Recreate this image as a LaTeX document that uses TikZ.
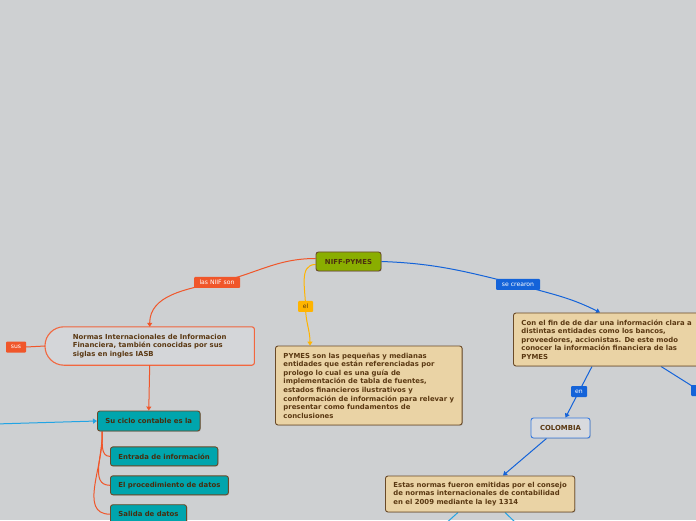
\documentclass[tikz,border=0pt]{standalone}
\usepackage{fontspec}
\newfontfamily\mapafont{DejaVu Sans}
\usetikzlibrary{shadows,calc,positioning,arrows.meta}
\definecolor{fondo}{HTML}{CED0D2}
\definecolor{cafe}{HTML}{6A4A28}
\definecolor{letracafe}{HTML}{5A3812}
\definecolor{arena}{HTML}{EAD3A5}
\definecolor{oliva}{HTML}{8AAE00}
\definecolor{turquesa}{HTML}{00A5AD}
\definecolor{naranja}{HTML}{F0562A}
\definecolor{amarillo}{HTML}{FFB400}
\definecolor{azul}{HTML}{1463D9}
\definecolor{celeste}{HTML}{22A4E4}
\definecolor{grisnodo}{HTML}{D8DADE}

\pgfdeclarelayer{detras}
\pgfsetlayers{detras,main}

\tikzset{
  tema/.style={draw=cafe,line width=0.9pt,rounded corners=2.5pt,align=left,
    text=letracafe,font=\mapafont\bfseries\fontsize{6.9}{8.6}\selectfont,
    inner xsep=8pt,inner ysep=0pt,
    drop shadow={shadow xshift=0.8pt,shadow yshift=-0.8pt,opacity=0.3}},
  arena/.style={tema,fill=arena},
  hoja/.style={tema,fill=turquesa,minimum height=19pt,text=letracafe!80!black},
  etiqueta/.style={fill=#1,text=white,rounded corners=1pt,inner xsep=3pt,inner ysep=0pt,
    minimum height=11pt,font=\mapafont\fontsize{6.1}{7}\selectfont},
  rama/.style={draw=#1,line width=1pt},
  punta/.style={-{Triangle[length=4pt,width=5pt]}},
}

\begin{document}
\begin{tikzpicture}[x=1pt,y=1pt]
\useasboundingbox (0,0) rectangle (696,520);
\clip (0,0) rectangle (696,520);
\begin{pgfonlayer}{detras}
\fill[fondo] (0,0) rectangle (696,520);
\end{pgfonlayer}

% nodo central
\node (niff) [tema,fill=oliva,minimum width=65pt,minimum height=19pt,inner xsep=0pt,text=letracafe!85!black]
 at (348.5,258.5) {NIFF-PYMES};

% rama izquierda
\node (normas) [align=left,text=letracafe,font=\mapafont\bfseries\fontsize{6.9}{8.6}\selectfont,
 anchor=west,inner xsep=26pt,minimum width=209pt,minimum height=38pt] at (45,174)
 {Normas Internacionales de Informacion\\Financiera, también conocidas por sus\\siglas en ingles IASB};
\begin{pgfonlayer}{detras}
\fill[black,opacity=0.25,rounded corners=2.5pt,shift={(0.8pt,-0.8pt)}] (normas.north east) -- (normas.south east)
 [rounded corners=19pt] -- (normas.south west) -- (normas.north west) [rounded corners=2.5pt] -- cycle;
\draw[fill=grisnodo!60!fondo,draw=naranja!90!white,line width=1.1pt,rounded corners=2.5pt] (normas.north east) -- (normas.south east)
 [rounded corners=19pt] -- (normas.south west) -- (normas.north west) [rounded corners=2.5pt] -- cycle;
\end{pgfonlayer}

\node (suciclo) [hoja,minimum height=20pt,anchor=west] at (97,99) {Su ciclo contable es la};
\node (entrada) [hoja,anchor=north west] at ([xshift=13pt,yshift=-15pt]suciclo.south west) {Entrada de información};
\node (procedimiento) [hoja,below=9pt of entrada.south west,anchor=north west] {El procedimiento de datos};
\node (salida) [hoja,below=9pt of procedimiento.south west,anchor=north west] {Salida de datos};

% nodos de texto
\node (pymes) [arena,anchor=west,minimum height=79pt] at (275,134.5)
 {PYMES son las pequeñas y medianas\\entidades que están referenciadas por\\prologo lo cual es una guía de\\implementación de tabla de fuentes,\\estados financieros ilustrativos y\\conformación de información para relevar y\\presentar como fundamentos de\\conclusiones};
\node (confin) [arena,anchor=west,minimum height=53pt] at (513,180.5)
 {Con el fin de de dar una información clara a\\distintas entidades como los bancos,\\proveedores, accionistas. De este modo\\conocer la información financiera de las\\PYMES};
\node (colombia) [tema,fill=grisnodo,draw=azul!85!white,minimum width=59pt,minimum height=20pt,inner xsep=0pt]
 at (560.5,92) {COLOMBIA};
\node (estas) [arena,anchor=west,minimum height=36pt] at (385,26)
 {Estas normas fueron emitidas por el consejo\\de normas internacionales de contabilidad\\en el 2009 mediante la ley 1314};

% etiquetas
\node (lasniif) [etiqueta=naranja,minimum width=46pt] at (217,237.5) {las NIIF son};
\node (el) [etiqueta=amarillo,text=letracafe,minimum width=15pt] at (305.5,213.5) {el};
\node (secrearon) [etiqueta=azul,minimum width=44pt] at (518,235.5) {se crearon};
\node (sus) [etiqueta=naranja,minimum width=20pt] at (16,173) {sus};
\node (en) [etiqueta=azul,minimum width=16pt] at (579,128.5) {en};
\node (derecha) [etiqueta=azul,minimum width=16pt,anchor=west] at (691,129.5) {};

\coordinate (izq) at (-5,96);
\coordinate (bajoa) at (444,-5);
\coordinate (bajob) at (518,-5);

% conectores
\begin{pgfonlayer}{detras}
\draw[rama=naranja,punta] ([yshift=3pt]niff.west) to[out=180,in=12] (lasniif.center) to[out=192,in=90] (normas.north);
\draw[rama=amarillo,punta] ([yshift=-3pt]niff.west) to[out=180,in=90] (el.center) to[out=-90,in=90] ([xshift=35pt]pymes.north west);
\draw[rama=azul,punta] (niff.east) to[out=-2,in=166] (secrearon.center) to[out=-16,in=153] ([xshift=87pt]confin.north west);
\draw[rama=azul] ([xshift=79pt]confin.south west) -- (en.center);
\draw[rama=azul,punta] (en.center) -- ([xshift=5pt]colombia.north);
\draw[rama=azul] ([xshift=148pt]confin.south west) -- (derecha.center);
\draw[rama=azul,punta] ([xshift=-14pt]colombia.south) -- ([xshift=118pt]estas.north west);
\draw[rama=celeste] ([xshift=73pt]estas.south west) -- (bajoa);
\draw[rama=celeste] ([xshift=120pt]estas.south west) -- (bajob);
\draw[rama=naranja] (sus.east) -- (normas.west);
\draw[rama=naranja,punta] (normas.south) -- (suciclo.north);
\draw[rama=celeste,punta] (izq) -- (suciclo.west);
\foreach \hijo in {entrada,procedimiento,salida}
  \draw[rama=naranja] ([xshift=5pt]suciclo.south west) to[out=-85,in=180] (\hijo.west);
\end{pgfonlayer}
\end{tikzpicture}
\end{document}
